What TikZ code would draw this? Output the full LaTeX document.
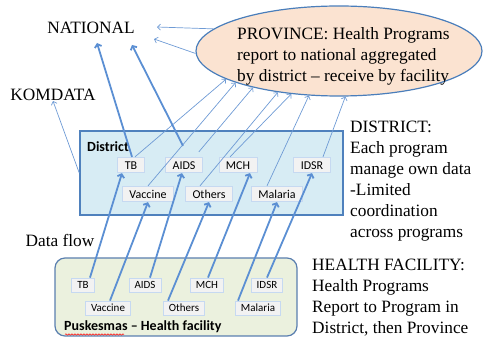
\documentclass[tikz,border=0pt]{standalone}
\usepackage{fontspec}
\setmainfont{Liberation Serif}
\newfontfamily\boxfont{Carlito}
\usetikzlibrary{arrows.meta,shapes.geometric,calc,decorations.pathmorphing}
\definecolor{ellfill}{HTML}{FBE3D1}
\definecolor{ellborder}{HTML}{4A7EBB}
\definecolor{distfill}{HTML}{D7ECF4}
\definecolor{distborder}{HTML}{4F81BD}
\definecolor{progfill}{HTML}{F2F2F2}
\definecolor{progborder}{HTML}{C6D9F1}
\definecolor{facfill}{HTML}{EBF1DE}
\definecolor{facborder}{HTML}{5A7FAF}
\definecolor{thinblue}{HTML}{6F9BD5}
\definecolor{thickout}{HTML}{5B8FD3}
\tikzset{
  serif/.style={font=\fontsize{17.3}{21}\selectfont, inner sep=0pt},
  dprog/.style={draw=progborder, fill=progfill, line width=0.8pt,
    font=\boxfont\fontsize{12}{12}\selectfont, inner xsep=7pt, inner ysep=3.5pt,
    text height=8.5pt, text depth=0pt},
  fprog/.style={draw=progborder, fill=progfill, line width=0.8pt,
    font=\boxfont\fontsize{11}{11}\selectfont, inner xsep=5.5pt, inner ysep=3pt,
    text height=8pt, text depth=0pt},
  boxlabel/.style={font=\boxfont\bfseries\fontsize{14}{14}\selectfont, inner sep=0pt, anchor=west},
  thinarrow/.style={draw=thinblue, line width=0.7pt, -{Straight Barb[length=3pt,width=6pt]}},
  thickarrow/.style={draw=thickout, line width=1.8pt,
    -{Straight Barb[length=3pt,width=7pt]}}
}
\begin{document}
\begin{tikzpicture}[x=1pt,y=-1pt]
\useasboundingbox (0,0) rectangle (483,339);
% top labels
\node[serif] (nat) at (91,28) {NATIONAL};
\node[serif] (kom) at (53,95) {KOMDATA};
\coordinate (natA) at (97,43);
\coordinate (natB) at (132,45);
\coordinate (natR1) at (157,27);
\coordinate (natR2) at (154,39);
% province ellipse
\node[ellipse, draw=ellborder, fill=ellfill, line width=1.2pt, minimum width=286pt, minimum height=90pt, inner sep=0pt] (prov) at (339,51) {};
\node[serif, anchor=north west, align=left] (provtext) at (237,27) {PROVINCE: Health Programs\\report to national aggregated\\by district – receive by facility};
% district box
\node[draw=distborder, fill=distfill, line width=1.5pt, minimum width=263pt, minimum height=84pt, inner sep=0pt] (dbox) at (211.5,173) {};
\node[boxlabel] (dlab) at (87,147) {District};
\node[dprog] (dTB) at (131,165) {TB};
\node[dprog] (dAIDS) at (184,165) {AIDS};
\node[dprog] (dMCH) at (238,165) {MCH};
\node[dprog] (dIDSR) at (312,165) {IDSR};
\node[dprog] (dVac) at (148,194) {Vaccine};
\node[dprog] (dOth) at (209,194) {Others};
\node[dprog] (dMal) at (277,194) {Malaria};
% facility box
\node[draw=facborder, fill=facfill, rounded corners=10pt, line width=1.2pt, minimum width=242pt, minimum height=78pt, inner sep=0pt] (fbox) at (176,297) {};
\node[fprog] (fTB) at (83,285) {TB};
\node[fprog] (fAIDS) at (145,285) {AIDS};
\node[fprog] (fMCH) at (207,285) {MCH};
\node[fprog] (fIDSR) at (267,285) {IDSR};
\node[fprog] (fVac) at (108,308) {Vaccine};
\node[fprog] (fOth) at (184,308) {Others};
\node[fprog] (fMal) at (258,308) {Malaria};
\node[boxlabel] (flab) at (64,327) {Puskesmas – Health facility};
\draw[red, line width=0.5pt, decorate, decoration={snake, amplitude=0.7pt, segment length=3pt}] (65,334.5) -- (124,334.5);
% side texts
\node[serif, anchor=north west, align=left] (disttext) at (350,121) {DISTRICT:\\Each program\\manage own data\\-Limited\\coordination\\across programs};
\node[serif, anchor=north west, align=left] (factext) at (312,259) {HEALTH FACILITY:\\Health Programs\\Report to Program in\\District, then Province};
\node[serif] (flow) at (60,240) {Data flow};
% thin arrows
\draw[thinarrow] (prov.170) -- (natR1);
\draw[thinarrow] (prov.181) -- (natR2);
\draw[thinarrow] (dbox.west) -- (kom.south);
\draw[thinarrow] ($(dTB.north)+(4,0)$) -- (prov.194.4);
\draw[thinarrow] (dVac.north) -- (prov.197.9);
\draw[thinarrow] ($(dAIDS.north east)+(-4,-5)$) -- (prov.203.8);
\draw[thinarrow] ($(dOth.north)+(-9,0)$) -- (prov.214.5);
\draw[thinarrow] ($(dMCH.north)+(-8,0)$) -- (prov.222);
\draw[thinarrow] ($(dMal.north)+(-10,0)$) -- (prov.236);
\draw[thinarrow] ($(dIDSR.north)+(11,0)$) -- (prov.278.8);
% thick arrows to national
\draw[thickarrow] ($(dTB.north)+(1,0)$) -- (natA);
\draw[thickarrow] ($(dAIDS.north)+(-1,-11)$) -- (natB);
% thick arrows facility -> district
\draw[thickarrow] ($(fTB.north)+(7,0)$) -- ($(dTB.south)+(-9,0)$);
\draw[thickarrow] ($(fVac.north)+(2,0)$) -- (dVac.south);
\draw[thickarrow] ($(fAIDS.north)+(5,0)$) -- ($(dAIDS.south)+(-2,0)$);
\draw[thickarrow] ($(fOth.north)+(-16,0)$) -- (dOth.south);
\draw[thickarrow] ($(fMCH.north)+(1,0)$) -- ($(dMCH.south)+(12,0)$);
\draw[thickarrow] ($(fMal.north)+(-20,0)$) -- (dMal.south);
\draw[thickarrow] (fIDSR.north) -- (dIDSR.south);
\end{tikzpicture}
\end{document}
